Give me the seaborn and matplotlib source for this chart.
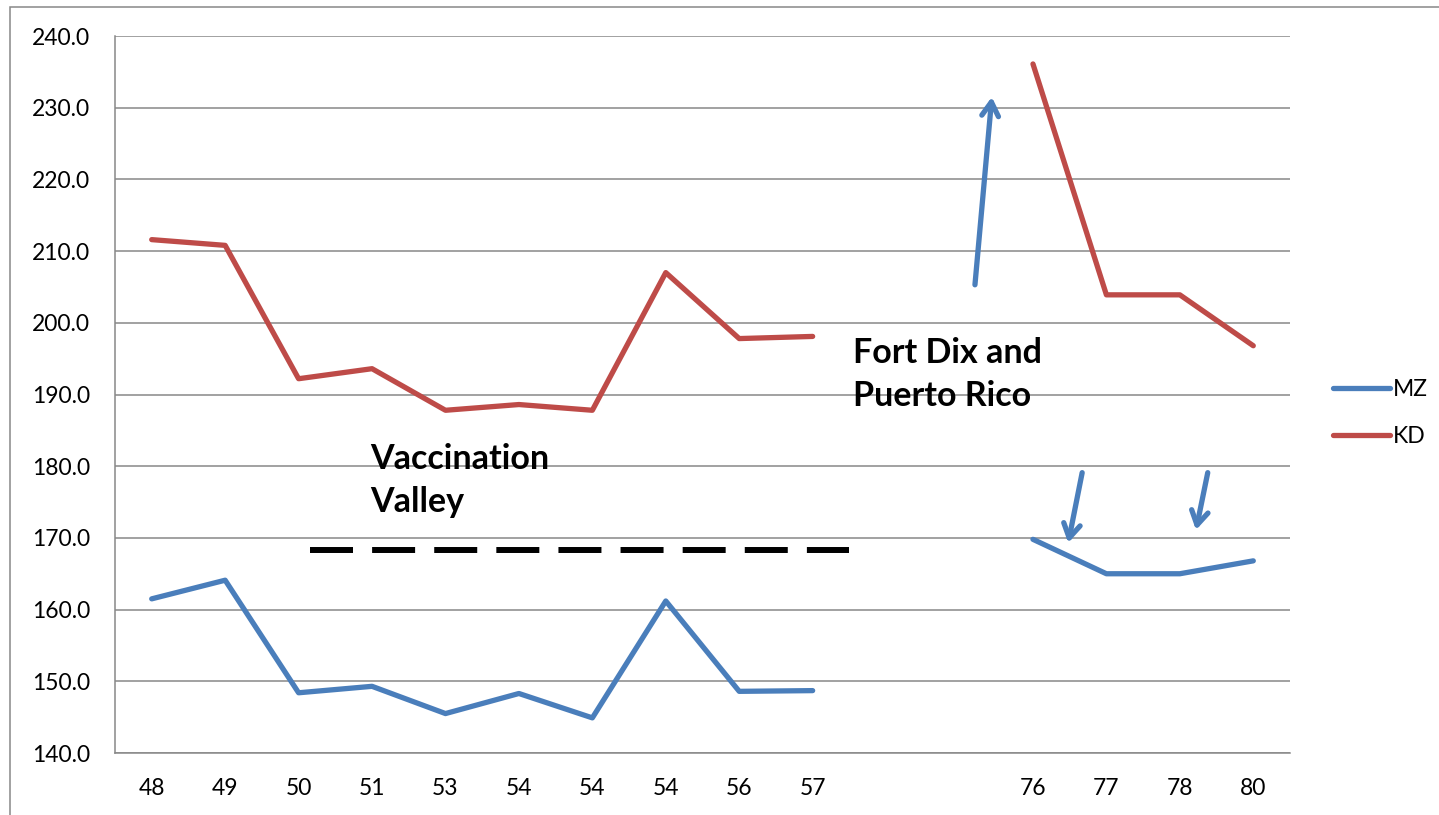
import matplotlib
matplotlib.use("Agg")
import matplotlib.pyplot as plt
import seaborn as sns
import pandas as pd
import numpy as np

# category labels along the x axis (two blank slots form the gap)
categories = ["48", "49", "50", "51", "53", "54", "54", "54", "56", "57",
              "", "", "76", "77", "78", "80"]
mz = [161.5, 164.1, 148.4, 149.3, 145.5, 148.3, 144.9, 161.2, 148.6, 148.7,
      None, None, 169.8, 165.0, 165.0, 166.8]
kd = [211.6, 210.8, 192.2, 193.6, 187.8, 188.6, 187.8, 207.0, 197.8, 198.1,
      None, None, 236.1, 203.9, 203.9, 196.8]
series_names = ["MZ", "KD"]
series_colors = ["#4a7ebb", "#be4b48"]

rows = []
for name, vals in zip(series_names, [mz, kd]):
    seg = 0
    for i, v in enumerate(vals):
        if v is None:
            seg = 1
            continue
        rows.append({"pos": i, "value": v, "series": name, "seg": seg})
df = pd.DataFrame(rows)

sns.set_style("white")
plt.rcParams["font.family"] = ["Lato", "DejaVu Sans"]
plt.rcParams["text.color"] = "black"
plt.rcParams["xtick.labelcolor"] = "black"
plt.rcParams["ytick.labelcolor"] = "black"

fig = plt.figure(figsize=(14.39, 8.15), dpi=100)
ax = fig.add_axes([115 / 1439, 1 - 753 / 815, (1290 - 115) / 1439, (753 - 36) / 815])

sns.lineplot(data=df, x="pos", y="value", hue="series", units="seg",
             estimator=None, palette=series_colors, linewidth=3.8,
             ax=ax, sort=False)

ax.set_xlim(-0.5, len(categories) - 0.5)
ax.set_ylim(140, 240)
ax.set_yticks(np.arange(140, 241, 10))
ax.set_yticklabels([f"{v:.1f}" for v in np.arange(140, 241, 10)], fontsize=16.5)
ax.yaxis.grid(True, color="#888888", linewidth=1.1)
ax.set_axisbelow(True)

# x: ticks at boundaries, labels at centers
ax.set_xticks(np.arange(-0.5, len(categories), 1.0))
ax.set_xticklabels([])
ax.set_xticks(np.arange(len(categories)), minor=True)
ax.set_xticklabels(categories, minor=True, fontsize=16.5)
ax.tick_params(axis="x", which="major", direction="out", length=6, color="#888888", width=1.1)
ax.tick_params(axis="x", which="minor", length=0, pad=18)
ax.tick_params(axis="y", direction="out", length=6, color="#888888", width=1.1, pad=12)
ax.set_xlabel("")
ax.set_ylabel("")
for s in ["top", "right"]:
    ax.spines[s].set_visible(False)
for s in ["left", "bottom"]:
    ax.spines[s].set_color("#888888")
    ax.spines[s].set_linewidth(1.1)

# dashed "valley" line
ax.plot([2.16, 9.49], [168.3, 168.3], color="black", linewidth=4.3,
        dashes=(7.2, 3.2), solid_capstyle="butt")

ax.text(2.97, 183.2, "Vaccination\nValley", fontsize=24.5, fontweight="bold",
        va="top", ha="left", linespacing=1.4)
ax.text(9.55, 198.0, "Fort Dix and\nPuerto Rico", fontsize=24.5, fontweight="bold",
        va="top", ha="left", linespacing=1.4)

arrow_kw = dict(arrowstyle="->,head_length=1.0,head_width=0.6", color="#4a7ebb",
                linewidth=3.8, shrinkA=0, shrinkB=0)
ax.annotate("", xy=(11.44, 231.5), xytext=(11.21, 205.3), arrowprops=arrow_kw)
ax.annotate("", xy=(12.48, 169.3), xytext=(12.67, 179.1), arrowprops=arrow_kw)
ax.annotate("", xy=(14.22, 171.1), xytext=(14.38, 179.1), arrowprops=arrow_kw)

leg = ax.legend(loc="center left", bbox_to_anchor=(1312 / 1439, 1 - 413 / 815),
                bbox_transform=fig.transFigure, frameon=False, fontsize=16.5,
                handlelength=2.5, handletextpad=0.15, labelspacing=1.1)

# outer chart border
fig.patches.append(plt.Rectangle((10 / 1439, -0.1), 1.2, 1 - 7 / 815 + 0.1,
                                 transform=fig.transFigure, fill=False,
                                 edgecolor="#888888", linewidth=1.1))

fig.savefig("out.png", dpi=100)
